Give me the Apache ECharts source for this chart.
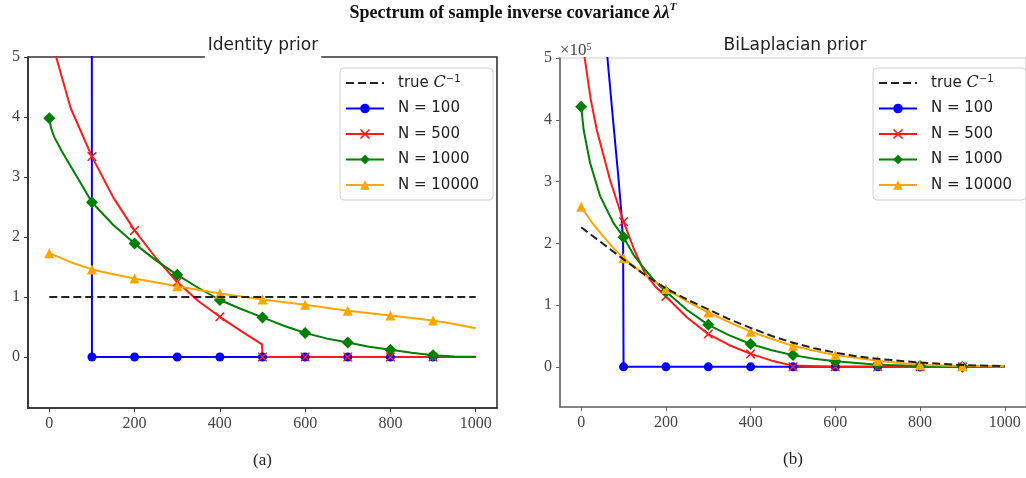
<!DOCTYPE html>
<html><head><meta charset="utf-8">
<script src="https://cdn.jsdelivr.net/npm/echarts@6/dist/echarts.min.js"></script>
<style>html,body{margin:0;padding:0;background:#fff}#c{width:1026px;height:478px}</style>
</head><body><div id="c"></div>
<script>
// ---- data ----
const MARKER_X = [0,100,200,300,400,500,600,700,800,900];
const X_TICKS = [0,200,400,600,800,1000];
const Y_TICKS = [0,1,2,3,4,5];
const SERIES_NAMES = ['true', 'N = 100', 'N = 500', 'N = 1000', 'N = 10000'];
const PANEL_TITLES = ['Identity prior', 'BiLaplacian prior'];
const PANEL_LABELS = ['(a)', '(b)'];

// (a) Identity prior
const idTrue  = [[0,1],[1000,1]];
const idN100  = [[0,40],[99,20],[100,0],[200,0],[300,0],[400,0],[500,0],[600,0],[700,0],[800,0],[900,0],[1000,0]];
const idN500  = [[0,5.4],[16,5.0],[50,4.15],[100,3.34],[150,2.66],[200,2.11],[250,1.65],[300,1.25],[350,0.93],[400,0.67],[450,0.43],[499,0.21],[500,0],[600,0],[700,0],[800,0],[900,0],[1000,0]];
const idN1000 = [[0,3.98],[4,3.82],[12,3.66],[30,3.42],[65,3.0],[100,2.58],[150,2.2],[200,1.89],[250,1.61],[300,1.37],[350,1.15],[400,0.95],[450,0.8],[500,0.66],[550,0.52],[600,0.40],[650,0.31],[700,0.24],[750,0.17],[800,0.12],[850,0.07],[900,0.03],[950,0.01],[1000,0.005]];
const idN10000= [[0,1.73],[50,1.58],[100,1.46],[150,1.38],[200,1.31],[300,1.18],[400,1.06],[500,0.96],[600,0.87],[700,0.77],[800,0.69],[900,0.61],[950,0.55],[1000,0.48]];

// (b) BiLaplacian prior (units of 1e5)
const blTrue  = [[0,2.26],[50,2.0],[100,1.74],[150,1.49],[200,1.27],[250,1.09],[300,0.93],[350,0.77],[400,0.63],[450,0.5],[500,0.39],[550,0.3],[600,0.23],[650,0.17],[700,0.13],[800,0.07],[900,0.03],[1000,0.01]];
const blN100  = [[0,12],[30,8],[50,6.2],[62,5.0],[76,3.94],[87,3.13],[95,2.49],[98,2.1],[99,2.0],[100,0],[200,0],[300,0],[400,0],[500,0],[600,0],[700,0],[800,0],[900,0],[1000,0]];
const blN500  = [[0,5.45],[9,4.97],[22,4.35],[37,3.83],[68,3.03],[100,2.35],[125,1.9],[150,1.52],[175,1.3],[200,1.14],[250,0.8],[300,0.53],[350,0.35],[400,0.21],[450,0.1],[499,0.02],[500,0],[600,0],[700,0],[800,0],[900,0],[1000,0]];
const blN1000 = [[0,4.21],[6,3.83],[21,3.3],[45,2.76],[76,2.33],[100,2.1],[125,1.8],[150,1.58],[175,1.38],[200,1.22],[250,0.92],[300,0.68],[350,0.51],[400,0.37],[450,0.27],[500,0.19],[550,0.13],[600,0.09],[700,0.035],[800,0.012],[900,0.003],[1000,0]];
const blN10000= [[0,2.59],[25,2.34],[50,2.13],[75,1.93],[100,1.76],[150,1.49],[200,1.26],[250,1.06],[300,0.88],[350,0.72],[400,0.57],[450,0.45],[500,0.34],[550,0.26],[600,0.19],[700,0.1],[800,0.03],[900,0.015],[1000,0.005]];

// ---- styles ----
const XPATH = 'path://M0,0L1.2,0L5,3.8L8.8,0L10,0L10,1.2L6.2,5L10,8.8L10,10L8.8,10L5,6.2L1.2,10L0,10L0,8.8L3.8,5L0,1.2Z';
const STY = {
  'true':      {color:'#222', symbol:'none', size:0, dash:'dashed'},
  'N = 100':   {color:'#0000ff', symbol:'circle', size:9},
  'N = 500':   {color:'#ff1a1a', symbol:XPATH, size:9},
  'N = 1000':  {color:'#008000', symbol:'diamond', size:[12,12]},
  'N = 10000': {color:'#ffa500', symbol:'triangle', size:10}
};

function mk(name, pts, gi) {
  const s = STY[name];
  return {
    type:'line', name, xAxisIndex:gi, yAxisIndex:gi,
    data: pts.map(p => MARKER_X.includes(p[0]) ? {value:p} : {value:p, symbol:'none'}),
    symbol: s.symbol, symbolSize: s.size, showSymbol: true, showAllSymbol: true,
    smooth: false,
    lineStyle:{color:s.color, width:2, type: s.dash || 'solid', join:'round'},
    itemStyle:{color:s.color, borderWidth:0},
    clip:true, animation:false, emphasis:{disabled:true}, z: name==='true'?5:2
  };
}

const serif = 'Liberation Serif';
const sans = 'DejaVu Sans';

function xAx(gi, color) {
  return {type:'value', gridIndex:gi, min:-50, max:1050,
    axisLine:{show:true, onZero:false, lineStyle:{color, width:1.6}},
    axisTick:{show:true, length:4, customValues:X_TICKS, lineStyle:{color}},
    axisLabel:{customValues:X_TICKS, formatter: v => String(v), color:'#444', fontFamily:serif, fontSize:16, margin:8},
    splitLine:{show:false},
    name: PANEL_LABELS[gi], nameLocation:'middle', nameGap:44,
    nameTextStyle:{fontFamily:serif, fontSize:17, color:'#222'}};
}
function yAx(gi, color, min) {
  const a = {type:'value', gridIndex:gi, min:min, max:5,
    axisLine:{show:true, onZero:false, lineStyle:{color, width:1.6}},
    axisTick:{show:true, length:4, customValues:Y_TICKS, lineStyle:{color}},
    axisLabel:{customValues:Y_TICKS, formatter: v => String(v), color:'#444', fontFamily:serif, fontSize:16, margin:8},
    splitLine:{show:false}};
  if (gi === 1) {
    a.name = '{a|×10}{b|5}';
    a.nameLocation = 'end';
    a.nameGap = 7;
    a.nameTextStyle = {align:'left', verticalAlign:'middle', color:'#444',
      rich:{a:{fontFamily:serif, fontSize:17, color:'#444', lineHeight:18},
            b:{fontFamily:serif, fontSize:10, color:'#444', verticalAlign:'top', lineHeight:18}}};
  }
  return a;
}

function legend(left) {
  return {show:true, orient:'vertical', left, top:68,
    data: SERIES_NAMES.map(n => n === 'true' ? {name:n, itemStyle:{color:'transparent', borderWidth:0}} : {name:n}),
    itemWidth:38, itemHeight:12, itemGap:7.5,
    backgroundColor:'rgba(255,255,255,0.9)', borderColor:'#d0d0d0', borderWidth:1, borderRadius:4,
    padding:[6,14,6,5], selectedMode:false,
    formatter: n => n === 'true' ? '{t|true }{c|C}{s|−1}' : n,
    textStyle:{fontFamily:sans, fontSize:15, color:'#222', lineHeight:18, padding:[0,0,0,9],
      rich:{t:{fontFamily:sans, fontSize:15, color:'#222', lineHeight:18},
            c:{fontFamily:'DejaVu Serif', fontStyle:'italic', fontSize:16, color:'#222', lineHeight:18},
            s:{fontFamily:sans, fontSize:10, color:'#222', verticalAlign:'top', lineHeight:18}}}
  };
}

const option = {
  backgroundColor:'#fff',
  animation:false,
  title:[
    {text:'{a|Spectrum of sample inverse covariance }{l|λλ}{s|T}', left:513, top:2, textAlign:'center', padding:0,
     textStyle:{rich:{
       a:{fontFamily:serif, fontWeight:'bold', fontSize:18, color:'#111', lineHeight:22},
       l:{fontFamily:serif, fontWeight:'bold', fontStyle:'italic', fontSize:18, color:'#111', lineHeight:22},
       s:{fontFamily:serif, fontStyle:'italic', fontSize:11, color:'#111', verticalAlign:'top', lineHeight:22}}}},
    {text:PANEL_TITLES[0], left:260, top:35, textAlign:'center', backgroundColor:'#fff', padding:[2,3,5,3],
     textStyle:{fontFamily:sans, fontSize:17, fontWeight:'normal', color:'#222'}},
    {text:PANEL_TITLES[1], left:792, top:35, textAlign:'center', padding:[2,3,5,3],
     textStyle:{fontFamily:sans, fontSize:17, fontWeight:'normal', color:'#222'}}
  ],
  grid:[
    {left:28, top:57, width:469, height:351, show:true, borderColor:'#333', borderWidth:1.6, backgroundColor:'transparent'},
    {left:560, top:58, width:469, height:349, show:true, borderColor:'#ddd', borderWidth:1.6, backgroundColor:'transparent'}
  ],
  xAxis:[xAx(0,'#333'), xAx(1,'#666')],
  yAxis:[yAx(0,'#333',-0.85), yAx(1,'#666',-0.65)],
  legend:[legend(340), legend(873)],
  series:[
    mk('N = 100', idN100, 0), mk('N = 500', idN500, 0), mk('N = 1000', idN1000, 0), mk('N = 10000', idN10000, 0), mk('true', idTrue, 0),
    mk('N = 100', blN100, 1), mk('N = 500', blN500, 1), mk('N = 1000', blN1000, 1), mk('N = 10000', blN10000, 1), mk('true', blTrue, 1)
  ]
};
const chart = echarts.init(document.getElementById('c'), null, {renderer:'canvas'});
chart.setOption(option);
</script></body></html>
